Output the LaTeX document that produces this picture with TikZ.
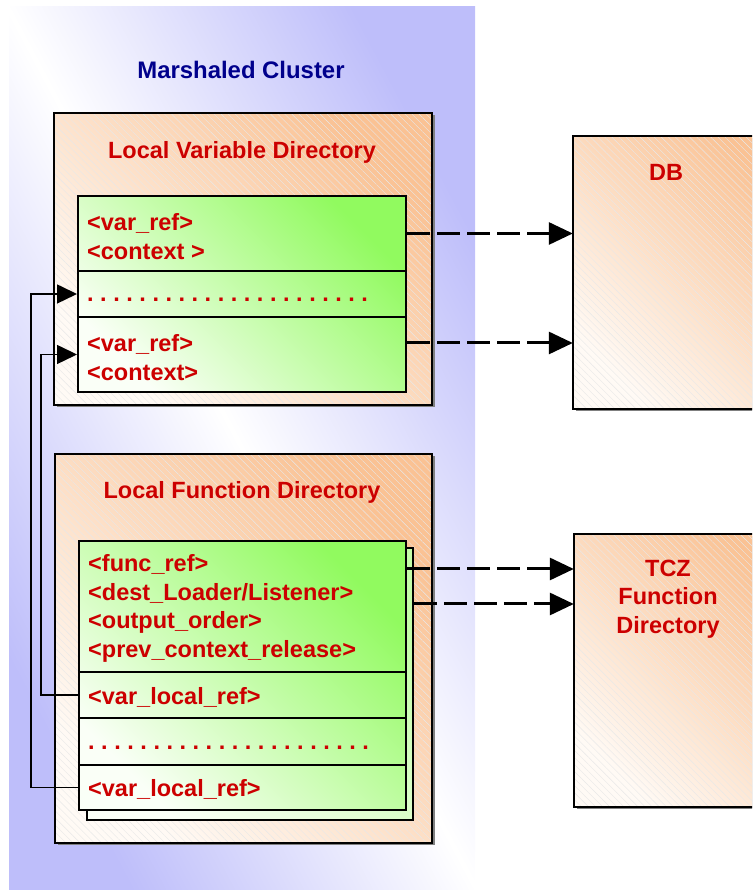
\documentclass[tikz,border=0pt]{standalone}
\usepackage{fontspec}
\setmainfont{Liberation Sans}
\usetikzlibrary{arrows.meta,shadows,patterns.meta}

\definecolor{clusterblue}{RGB}{190,190,250}
\definecolor{boxorange}{RGB}{250,194,148}
\definecolor{boxpeach}{RGB}{255,250,245}
\definecolor{tabgreen}{RGB}{145,250,95}
\definecolor{tabwhite}{RGB}{250,255,247}
\definecolor{labelred}{RGB}{204,0,0}
\definecolor{titleblue}{RGB}{0,0,140}

\tikzset{
	hatched/.style={postaction={pattern={Lines[angle=-45,distance=5pt,line width=0.4pt]},pattern color=black!9}},
	clusterbg/.style={top color=clusterblue,bottom color=clusterblue,middle color=white,shading angle=-62,inner sep=0pt},
	dirbox/.style={top color=boxorange,bottom color=boxpeach,shading angle=-45,inner sep=0pt,
		drop shadow={shadow xshift=2.5pt,shadow yshift=-2.5pt,fill=black!50,opacity=1},hatched,postaction={draw,line width=2pt}},
	greentab/.style={draw,line width=2pt,top color=tabgreen,bottom color=tabwhite,shading angle=-45,inner sep=0pt},
	backtab/.style={draw,line width=1.5pt,top color=tabgreen!55,bottom color=tabwhite,shading angle=-45,inner sep=0pt},
	tabrow/.style={draw,line width=2pt,inner sep=0pt},
	redtext/.style={text=labelred,inner sep=0pt,font=\bfseries\fontsize{23.5}{28.5}\selectfont},
	dasharrow/.style={line width=3pt,dash pattern=on 23pt off 7pt,-{Triangle[length=24pt,width=22pt]}},
	looparrow/.style={line width=1.5pt,-{Triangle[length=20pt,width=19pt]}}
}

\begin{document}
\frenchspacing
\begin{tikzpicture}[x=1pt,y=1pt]

	\useasboundingbox (0,0) rectangle (752,890);
	\clip (0,0) rectangle (752,890);

	% Cluster
	\node (cluster) at (242,441.5) [clusterbg,minimum width=466pt,minimum height=883pt] {};
	\node (title) at (241,820) [inner sep=0pt,text=titleblue,font=\bfseries\fontsize{23.9}{28}\selectfont] {Marshaled Cluster};

	% Local Variable Directory
	\node (lvd) at (243,631) [dirbox,minimum width=378pt,minimum height=292pt] {};
	\node (lvdname) at (242,738) [redtext] {Local Variable Directory};
	\node (lvtab) at (242,596) [greentab,minimum width=328pt,minimum height=196pt] {};
	\node (lvrow1) at (242,656.5) [tabrow,minimum width=328pt,minimum height=75pt] {};
	\node (lvrow2) at (242,596) [tabrow,minimum width=328pt,minimum height=46pt] {};
	\node (lvrow3) at (242,535.5) [tabrow,minimum width=328pt,minimum height=75pt] {};
	\node (lvtext1) at ([xshift=10pt,yshift=-3pt]lvrow1.west) [redtext,anchor=west,align=left] {<var\_ref>\\<context >};
	\node (lvdots) at ([xshift=10pt,yshift=-8pt]lvrow2.west) [redtext,anchor=base west] {. . . . . . . . . . . . . . . . . . . . . .};
	\node (lvtext3) at ([xshift=10pt,yshift=-3pt]lvrow3.west) [redtext,anchor=west,align=left] {<var\_ref>\\<context>};

	% Local Function Directory
	\node (lfd) at (243.5,241.5) [dirbox,minimum width=377pt,minimum height=389pt] {};
	\node (lfdname) at (242,398) [redtext] {Local Function Directory};
	\node (fnback) at (250,206) [backtab,minimum width=326pt,minimum height=272pt] {};
	\node (fntab) at (242.5,214.5) [greentab,minimum width=327pt,minimum height=269pt] {};
	\node (fnrow1) at (242.5,283.5) [tabrow,minimum width=327pt,minimum height=131pt] {};
	\node (fnrow2) at (242.5,195) [tabrow,minimum width=327pt,minimum height=46pt] {};
	\node (fnrow3) at (242.5,148.5) [tabrow,minimum width=327pt,minimum height=47pt] {};
	\node (fnrow4) at (242.5,102.5) [tabrow,minimum width=327pt,minimum height=45pt] {};
	\node (fntext1) at ([xshift=10pt,yshift=-2pt]fnrow1.west) [redtext,anchor=west,align=left]
		{<func\_ref>\\<dest\_Loader/Listener>\\<output\_order>\\<prev\_context\_release>};
	\node (fntext2) at ([xshift=10pt,yshift=-2pt]fnrow2.west) [redtext,anchor=west] {<var\_local\_ref>};
	\node (fndots) at ([xshift=10pt,yshift=-8pt]fnrow3.west) [redtext,anchor=base west] {. . . . . . . . . . . . . . . . . . . . . .};
	\node (fntext4) at ([xshift=10pt,yshift=-2pt]fnrow4.west) [redtext,anchor=west] {<var\_local\_ref>};

	% DB and TCZ
	\node (db) at (686.5,617.5) [dirbox,minimum width=227pt,minimum height=273pt] {};
	\node (dbname) at (666,718) [redtext] {DB};
	\node (tcz) at (687,219.5) [dirbox,minimum width=226pt,minimum height=273pt] {};
	\node (tczname) at (668,291) [redtext,align=center] {TCZ\\Function\\Directory};

	% references out
	\coordinate (lvout3) at ([yshift=11.5pt]lvrow3.east);
	\coordinate (fnout1) at ([yshift=37.5pt]fnrow1.east);
	\coordinate (fnout2) at ([yshift=80pt]fnback.east);
	\draw[dasharrow] (lvrow1.east) -- (lvrow1.east -| db.west);
	\draw[dasharrow] (lvout3) -- (lvout3 -| db.west);
	\draw[dasharrow] (fnout1) -- (fnout1 -| tcz.west);
	\draw[dasharrow] (fnout2) -- (fnout2 -| tcz.west);

	% local refs back to variables
	\draw[looparrow] (fnrow4.west) -- ++(-47,0) |- (lvrow2.west);
	\draw[looparrow] (fnrow2.west) -- ++(-37,0) |- (lvrow3.west);

\end{tikzpicture}
\end{document}
